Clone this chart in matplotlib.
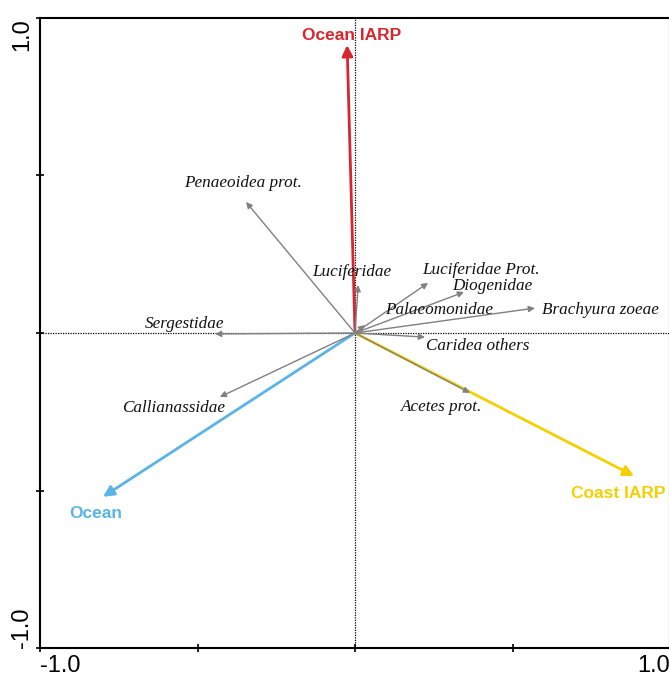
import matplotlib
matplotlib.use("Agg")
import matplotlib.pyplot as plt

# Species vectors (gray)
species = ["Penaeoidea prot.", "Luciferidae", "Luciferidae Prot.", "Diogenidae",
           "Palaeomonidae", "Brachyura zoeae", "Sergestidae", "Caridea others",
           "Callianassidae", "Acetes prot."]
sp_x = [-0.346, 0.010, 0.232, 0.346, 0.032, 0.571, -0.444, 0.222, -0.429, 0.365]
sp_y = [0.416, 0.152, 0.159, 0.130, 0.025, 0.079, -0.003, -0.013, -0.203, -0.190]
# label positions (data coords, text centre)
sp_lx = [-0.356, -0.010, 0.400, 0.435, 0.267, 0.778, -0.540, 0.391, -0.575, 0.276]
sp_ly = [0.476, 0.194, 0.200, 0.149, 0.073, 0.073, 0.029, -0.041, -0.238, -0.235]

# Environmental vectors (coloured)
env = ["Ocean IARP", "Coast IARP", "Ocean"]
env_x = [-0.025, 0.886, -0.800]
env_y = [0.914, -0.454, -0.520]
env_lx = [-0.010, 0.835, -0.822]
env_ly = [0.946, -0.511, -0.574]
env_col = ["#d9262e", "#f5d000", "#5ab4e5"]

tick_vals = [-1, -0.5, 0, 0.5, 1]
tick_text = ["-1.0", "", "", "", "1.0"]

fig = plt.figure(figsize=(6.69, 6.80), dpi=100)
ax = fig.add_axes([40/669, 32/680, 630/669, 630/680])
ax.set_xlim(-1, 1)
ax.set_ylim(-1, 1)

ax.axhline(0, color="black", ls=(0, (1, 1)), lw=0.9, zorder=1)
ax.axvline(0, color="black", ls=(0, (1, 1)), lw=0.9, zorder=1)

serif = ["Liberation Serif", "DejaVu Serif"]
sans = ["Liberation Sans", "DejaVu Sans"]

for x, y in zip(sp_x, sp_y):
    ax.annotate("", xy=(x, y), xytext=(0, 0),
                arrowprops=dict(arrowstyle="-|>", color="#808080", lw=1.0,
                                mutation_scale=9, shrinkA=0, shrinkB=0), zorder=3)
for name, lx, ly in zip(species, sp_lx, sp_ly):
    ax.text(lx, ly, name, family=serif, style="italic", fontsize=12.3,
            ha="center", va="center", color="#111111", zorder=4)

for x, y, c in zip(env_x, env_y, env_col):
    ax.annotate("", xy=(x, y), xytext=(0, 0),
                arrowprops=dict(arrowstyle="-|>", color=c, lw=2.0,
                                mutation_scale=16, shrinkA=0, shrinkB=0), zorder=2)
for name, lx, ly, c in zip(env, env_lx, env_ly, env_col):
    ax.text(lx, ly, name, family=sans, fontweight="bold", fontsize=12.5,
            ha="center", va="center", color=c, zorder=4)

ax.set_xticks(tick_vals)
ax.set_yticks(tick_vals)
ax.set_xticklabels(tick_text, family=sans, fontsize=17)
ax.set_yticklabels(tick_text, family=sans, fontsize=17, rotation=90)
xl = ax.get_xticklabels()
xl[0].set_ha("left")
xl[-1].set_ha("right")
yl = ax.get_yticklabels()
yl[0].set_va("bottom")
yl[-1].set_va("top")
ax.tick_params(direction="inout", length=6, width=1.2, pad=2)
for s in ax.spines.values():
    s.set_linewidth(1.5)

fig.savefig("out.png", dpi=100)
